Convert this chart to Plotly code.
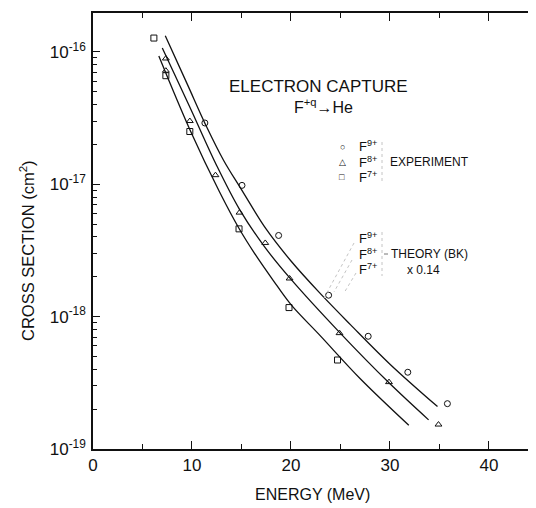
import plotly.graph_objects as go

# ---------------- data ----------------
# Experiment
e_f9 = [11.3, 15.05, 18.75, 23.8, 27.8, 31.8, 35.8]
s_f9 = [2.9e-17, 9.8e-18, 4.1e-18, 1.45e-18, 7.1e-19, 3.8e-19, 2.2e-19]
e_f8 = [7.36, 7.36, 9.78, 12.37, 14.8, 17.4, 19.86, 24.9, 29.9, 34.9]
s_f8 = [8.9e-17, 7.2e-17, 3.0e-17, 1.17e-17, 6.1e-18, 3.6e-18, 1.94e-18, 7.5e-19, 3.2e-19, 1.53e-19]
e_f7 = [6.15, 7.36, 9.78, 14.75, 19.8, 24.7]
s_f7 = [1.27e-16, 6.6e-17, 2.5e-17, 4.6e-18, 1.17e-18, 4.7e-19]

# Theory (BK) x 0.14
th_e_f9 = [7.3, 9.5, 11.5, 13.2, 15.0, 17.5, 20.0, 22.9, 26.0, 30.0, 34.8]
th_s_f9 = [1.32e-16, 5.75e-17, 2.69e-17, 1.51e-17, 9.1e-18, 4.57e-18, 2.63e-18, 1.51e-18, 8.7e-19, 4.37e-19, 2.09e-19]
th_e_f8 = [7.0, 9.8, 12.5, 14.8, 17.3, 19.9, 24.9, 29.9, 33.9]
th_s_f8 = [1.07e-16, 3.8e-17, 1.38e-17, 6.46e-18, 3.39e-18, 1.95e-18, 7.6e-19, 3.16e-19, 1.66e-19]
th_e_f7 = [6.65, 9.8, 12.8, 14.8, 16.3, 18.2, 20.0, 22.9, 27.0, 31.9]
th_s_f7 = [9.3e-17, 2.57e-17, 8.7e-18, 4.57e-18, 3.02e-18, 1.88e-18, 1.23e-18, 7.24e-19, 3.39e-19, 1.51e-19]

x_ticks = [0, 10, 20, 30, 40]
y_ticks = [1e-19, 1e-18, 1e-17, 1e-16]
y_ticktext = ["10<sup>-19</sup>", "10<sup>-18</sup>", "10<sup>-17</sup>", "10<sup>-16</sup>"]

FONT = "Liberation Sans"
INK = "#111111"

fig = go.Figure()

for e, s in [(th_e_f9, th_s_f9), (th_e_f8, th_s_f8), (th_e_f7, th_s_f7)]:
    fig.add_trace(go.Scatter(x=e, y=s, mode="lines",
                             line=dict(color=INK, width=1.3, shape="spline", smoothing=1.0),
                             showlegend=False, hoverinfo="skip"))

for e, s, sym in [(e_f9, s_f9, "circle-open"), (e_f8, s_f8, "triangle-up-open"),
                  (e_f7, s_f7, "square-open")]:
    fig.add_trace(go.Scatter(x=e, y=s, mode="markers",
                             marker=dict(symbol=sym, size=6, color=INK, line=dict(width=1, color=INK)),
                             showlegend=False))

minor_vals = [m * 10.0 ** p for p in range(-19, -15) for m in range(2, 10)]


# positions given in reference-picture pixels, mapped to paper fractions
def px(xpix):
    return (xpix - 93) / 443.0


def py(ypix):
    return (449 - ypix) / 436.0


ann = []


def add_text(text, xpix, ypix, size, xanchor="center", color=INK, angle=0):
    ann.append(dict(text=text, x=px(xpix), y=py(ypix), xref="paper", yref="paper",
                    xanchor=xanchor, yanchor="middle", showarrow=False, textangle=angle,
                    font=dict(family=FONT, size=size, color=color)))


add_text("ELECTRON CAPTURE", 318, 86, 17)
add_text("F<sup>+q</sup>\u2192He", 323, 106, 16)

# axis titles
add_text("ENERGY (MeV)", 312, 494, 16)
add_text("CROSS SECTION (cm<sup>2</sup>)", 27, 251, 16.5, angle=-90)

# experiment legend
add_text("\u25CB", 342, 147, 9)
add_text("\u25B3", 342, 162, 9)
add_text("\u25A1", 342, 177, 9)
add_text("F<sup>9+</sup>", 357, 146, 13, "left")
add_text("F<sup>8+</sup>", 357, 162, 13, "left")
add_text("F<sup>7+</sup>", 357, 177, 13, "left")
add_text("EXPERIMENT", 388, 162, 12, "left")

# theory legend
add_text("F<sup>9+</sup>", 357, 238, 13, "left")
add_text("F<sup>8+</sup>", 357, 254, 13, "left")
add_text("F<sup>7+</sup>", 357, 269, 13, "left")
add_text("THEORY (BK)", 389, 254, 12, "left")
add_text("x 0.14", 405, 270, 12, "left")

shapes = []


def add_line(x0, y0, x1, y1, color="#c4c4c4", dash="dot", width=1):
    shapes.append(dict(type="line", xref="paper", yref="paper",
                       x0=px(x0), y0=py(y0), x1=px(x1), y1=py(y1),
                       line=dict(color=color, width=width, dash=dash)))


add_line(382, 142, 382, 181)
add_line(382, 232, 382, 276)
add_line(384, 254, 388, 254, color="#777777", dash="solid")
add_line(354, 243, 324, 298)
add_line(352, 260, 334, 292)
add_line(356, 273, 344, 293)

# the page body adds an 8px margin, so the figure is 8px smaller and shifted
fig.update_layout(
    width=528, height=500,
    margin=dict(l=85, r=0, t=5, b=59),
    paper_bgcolor="white", plot_bgcolor="white",
    font=dict(family=FONT, color=INK),
    annotations=ann, shapes=shapes,
    xaxis=dict(range=[0, 44.75], tickvals=x_ticks, ticks="inside", ticklen=8, tickwidth=1.2,
               tickcolor=INK, showline=True, linecolor=INK, linewidth=1.5, mirror="ticks",
               showgrid=False, zeroline=False, automargin=False,
               minor=dict(dtick=5, tick0=0, ticks="inside", ticklen=5, tickcolor=INK, showgrid=False),
               tickfont=dict(size=17, family=FONT, color=INK)),
    yaxis=dict(type="log", range=[-19, -15.707], tickvals=y_ticks, ticktext=y_ticktext,
               ticks="inside", ticklen=7, tickwidth=1.2, tickcolor=INK,
               showline=True, linecolor=INK, linewidth=1.5, mirror="ticks",
               showgrid=False, zeroline=False, automargin=False, ticklabelstandoff=2,
               minor=dict(tickvals=minor_vals, ticks="inside", ticklen=4, tickcolor=INK, showgrid=False),
               tickfont=dict(size=17, family=FONT, color=INK)),
)

fig.write_html("out.html")
